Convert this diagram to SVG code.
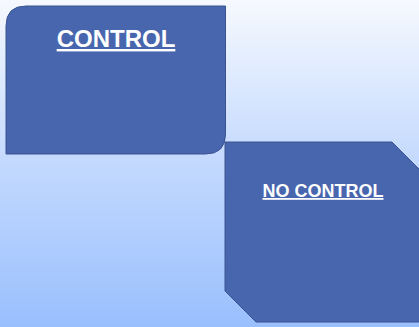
<svg xmlns="http://www.w3.org/2000/svg" width="419" height="327" viewBox="0 0 419 327">
  <defs>
    <linearGradient id="bg" x1="0" y1="0" x2="0" y2="1">
      <stop offset="0" stop-color="#F6F9FE"/>
      <stop offset="0.5" stop-color="#C3D9FE"/>
      <stop offset="1" stop-color="#99BFFD"/>
    </linearGradient>
  </defs>
  <style>
    .box { fill: #4866AD; stroke: #3A5492; stroke-width: 1; }
    .lbl { font-family: "Liberation Sans", Arial, sans-serif; font-weight: bold; fill: #FFFFFF; text-anchor: middle; text-decoration: underline; }
  </style>
  <rect x="0" y="0" width="419" height="327" fill="url(#bg)"/>
  <g id="control">
    <path class="box" d="M26,6 H225.5 V134 Q225.5,154 205.5,154 H6 V26 Q6,6 26,6 Z"/>
    <text class="lbl" x="116" y="47" font-size="24">CONTROL</text>
  </g>
  <g id="no-control">
    <path class="box" d="M225,142 H392 L424,174 V322 H256 L225,291 Z"/>
    <text class="lbl" x="323" y="197" font-size="18">NO CONTROL</text>
  </g>
  <g id="connectors"/>
</svg>
